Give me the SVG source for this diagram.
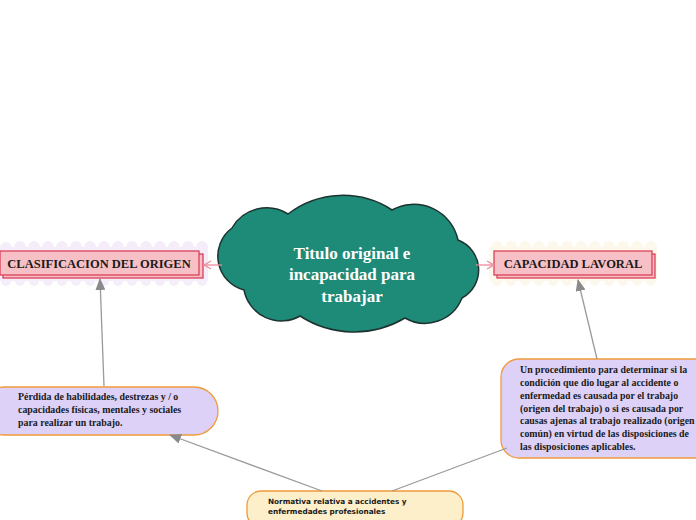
<svg xmlns="http://www.w3.org/2000/svg" width="696" height="520" viewBox="0 0 696 520">
<defs>
<style>
.fancy{font-family:"Liberation Serif","DejaVu Serif",serif;font-weight:bold;}
.main{font-size:12.5px;fill:#1a1a1a;text-anchor:middle;}
.sub{font-size:9.9px;fill:#1a1a1a;}
.gray{stroke:#9a9a9a;stroke-width:1.3;fill:none;}
.pink{stroke:#ef8a9a;stroke-width:1.3;fill:none;}
.box{fill:#f6c0c6;stroke:#d9405a;stroke-width:1.3;}
.lav{fill:#ddd1f7;stroke:#f09a3a;stroke-width:1.3;}
</style>
<marker id="ag" markerWidth="12" markerHeight="10" refX="11" refY="5" orient="auto" markerUnits="userSpaceOnUse">
<path d="M0,0 L12,5 L0,10 Z" fill="#8a8a8a"/>
</marker>
<marker id="ap" markerWidth="10" markerHeight="10" refX="8" refY="5" orient="auto" markerUnits="userSpaceOnUse">
<path d="M1,1 L8,5 L1,9" fill="none" stroke="#ef8a9a" stroke-width="1.3"/>
</marker>
</defs>
<rect width="696" height="520" fill="#ffffff"/>

<g id="center">
<path d="M232,228 A40,40 0 0 1 288,214 A90,90 0 0 1 392,210 A45,45 0 0 1 458,240 A32,32 0 0 1 462,298 A40,40 0 0 1 405,318 A100,100 0 0 1 300,316 A38,38 0 0 1 244,290 A35,35 0 0 1 232,228 Z" fill="#1e8a78" stroke="#1d3330" stroke-width="1.5"/>
<text class="fancy" x="352" y="259" font-size="17" fill="#ffffff" text-anchor="middle">Titulo original e</text>
<text class="fancy" x="352" y="280" font-size="17" fill="#ffffff" text-anchor="middle">incapacidad para</text>
<text class="fancy" x="352" y="302" font-size="17" fill="#ffffff" text-anchor="middle">trabajar</text>
</g>

<g id="clasificacion">
<g fill="#f5eefa">
<rect x="0" y="247" width="208" height="34"/>
<circle cx="6" cy="248" r="6"/><circle cx="20" cy="247" r="6"/><circle cx="34" cy="247" r="6"/><circle cx="48" cy="247" r="6"/><circle cx="62" cy="247" r="6"/><circle cx="76" cy="247" r="6"/><circle cx="90" cy="247" r="6"/><circle cx="104" cy="247" r="6"/><circle cx="118" cy="247" r="6"/><circle cx="132" cy="247" r="6"/><circle cx="146" cy="247" r="6"/><circle cx="160" cy="247" r="6"/><circle cx="174" cy="247" r="6"/><circle cx="188" cy="247" r="6"/><circle cx="202" cy="247" r="6"/>
<circle cx="6" cy="281" r="5"/><circle cx="20" cy="281" r="5"/><circle cx="34" cy="281" r="5"/><circle cx="48" cy="281" r="5"/><circle cx="62" cy="281" r="5"/><circle cx="76" cy="281" r="5"/><circle cx="90" cy="281" r="5"/><circle cx="104" cy="281" r="5"/><circle cx="118" cy="281" r="5"/><circle cx="132" cy="281" r="5"/><circle cx="146" cy="281" r="5"/><circle cx="160" cy="281" r="5"/><circle cx="174" cy="281" r="5"/><circle cx="188" cy="281" r="5"/><circle cx="202" cy="281" r="5"/>
</g>
<rect class="box" x="3" y="254" width="200" height="24"/>
<rect class="box" x="0" y="251" width="199" height="24"/>
<text class="fancy main" x="99" y="268">CLASIFICACION DEL ORIGEN</text>
</g>

<g id="capacidad">
<g fill="#fcf8ec">
<rect x="489" y="247" width="168" height="34"/>
<circle cx="497" cy="247" r="6"/><circle cx="511" cy="247" r="6"/><circle cx="525" cy="247" r="6"/><circle cx="539" cy="247" r="6"/><circle cx="553" cy="247" r="6"/><circle cx="567" cy="247" r="6"/><circle cx="581" cy="247" r="6"/><circle cx="595" cy="247" r="6"/><circle cx="609" cy="247" r="6"/><circle cx="623" cy="247" r="6"/><circle cx="637" cy="247" r="6"/><circle cx="651" cy="247" r="6"/>
<circle cx="497" cy="281" r="5"/><circle cx="511" cy="281" r="5"/><circle cx="525" cy="281" r="5"/><circle cx="539" cy="281" r="5"/><circle cx="553" cy="281" r="5"/><circle cx="567" cy="281" r="5"/><circle cx="581" cy="281" r="5"/><circle cx="595" cy="281" r="5"/><circle cx="609" cy="281" r="5"/><circle cx="623" cy="281" r="5"/><circle cx="637" cy="281" r="5"/><circle cx="651" cy="281" r="5"/>
</g>
<rect class="box" x="497" y="254" width="158" height="24"/>
<rect class="box" x="494" y="251" width="158" height="24"/>
<text class="fancy main" x="573" y="268">CAPACIDAD LAVORAL</text>
</g>

<g id="perdida">
<rect class="lav" x="-20" y="387" width="238" height="48" rx="24"/>
<text class="fancy sub" x="18" y="400">Pérdida de habilidades, destrezas y / o</text>
<text class="fancy sub" x="18" y="413">capacidades físicas, mentales y sociales</text>
<text class="fancy sub" x="18" y="426">para realizar un trabajo.</text>
</g>

<g id="procedimiento">
<rect class="lav" x="501" y="359" width="215" height="99" rx="18"/>
<text class="fancy sub" x="520" y="373">Un procedimiento para determinar si la</text>
<text class="fancy sub" x="520" y="386">condición que dio lugar al accidente o</text>
<text class="fancy sub" x="520" y="399">enfermedad es causada por el trabajo</text>
<text class="fancy sub" x="520" y="412">(origen del trabajo) o si es causada por</text>
<text class="fancy sub" x="520" y="424">causas ajenas al trabajo realizado (origen</text>
<text class="fancy sub" x="520" y="437">común) en virtud de las disposiciones de</text>
<text class="fancy sub" x="520" y="450">las disposiciones aplicables.</text>
</g>

<g id="normativa">
<rect x="247" y="491" width="216" height="36" rx="14" fill="#fdefc9" stroke="#f09a3a" stroke-width="1.3"/>
<text x="268" y="504" font-family="'DejaVu Sans','Liberation Sans',sans-serif" font-weight="bold" font-size="7.3" fill="#1a1a1a">Normativa relativa a accidentes y</text>
<text x="268" y="514" font-family="'DejaVu Sans','Liberation Sans',sans-serif" font-weight="bold" font-size="7.3" fill="#1a1a1a">enfermedades profesionales</text>
</g>

<g id="connectors">
<line class="pink" x1="222" y1="265" x2="204" y2="265" marker-end="url(#ap)"/>
<line class="pink" x1="476" y1="265" x2="494" y2="265" marker-end="url(#ap)"/>
<line class="gray" x1="104" y1="386" x2="100" y2="279" marker-end="url(#ag)"/>
<line class="gray" x1="597" y1="359" x2="578" y2="280" marker-end="url(#ag)"/>
<line class="gray" x1="322" y1="491" x2="170" y2="435" marker-end="url(#ag)"/>
<line class="gray" x1="392" y1="491" x2="507" y2="448"/>
</g>
</svg>
